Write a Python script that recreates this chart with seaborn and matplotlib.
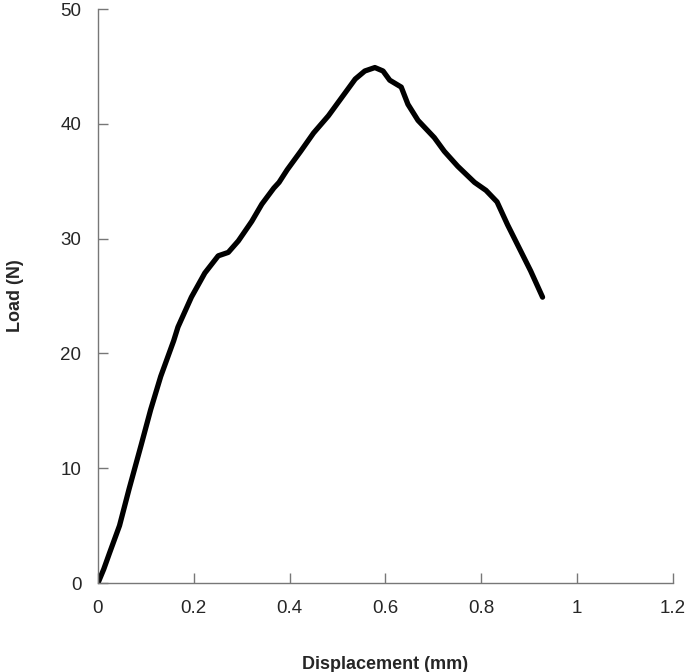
"""
plot.py
Load-displacement curve recreated with seaborn.
"""

import pandas as pd
import seaborn as sns
import matplotlib.pyplot as plt

displacement = [0.0, 0.012, 0.024, 0.045, 0.065, 0.09, 0.11, 0.131, 0.158, 0.167,
                0.195, 0.223, 0.251, 0.272, 0.293, 0.321, 0.342, 0.367, 0.378,
                0.395, 0.423, 0.45, 0.481, 0.509, 0.537, 0.557, 0.578, 0.595,
                0.609, 0.633, 0.647, 0.668, 0.702, 0.723, 0.751, 0.786, 0.81,
                0.833, 0.855, 0.879, 0.903, 0.928]
load = [0.0, 1.2, 2.6, 5.0, 8.2, 12.0, 15.1, 18.0, 21.1, 22.3,
        24.9, 27.0, 28.5, 28.8, 29.8, 31.5, 33.0, 34.4, 34.9,
        36.0, 37.6, 39.2, 40.7, 42.3, 43.9, 44.6, 44.9, 44.6,
        43.8, 43.2, 41.7, 40.3, 38.8, 37.6, 36.3, 34.9, 34.2,
        33.2, 31.2, 29.2, 27.2, 24.9]

xticks = [0, 0.2, 0.4, 0.6, 0.8, 1, 1.2]
xtick_labels = ["0", "0.2", "0.4", "0.6", "0.8", "1", "1.2"]
yticks = [0, 10, 20, 30, 40, 50]

df = pd.DataFrame({"Displacement (mm)": displacement, "Load (N)": load})

sns.set_style("ticks")
plt.rcParams["font.family"] = ["Liberation Sans", "DejaVu Sans"]

fig = plt.figure(figsize=(6.88, 6.72), dpi=100)
ax = fig.add_axes([0.1424, 0.1324, 0.8356, 0.8542])

sns.lineplot(data=df, x="Displacement (mm)", y="Load (N)", sort=False,
             color="black", linewidth=3.8, ax=ax)
ax.lines[0].set_solid_joinstyle("round")
ax.lines[0].set_solid_capstyle("round")

ax.set_xlim(0, 1.2)
ax.set_ylim(0, 50)
ax.set_xticks(xticks)
ax.set_xticklabels(xtick_labels)
ax.set_yticks(yticks)
ax.tick_params(direction="in", length=7, width=1, color="#777777",
               labelsize=13.5, pad=12)
sns.despine(ax=ax)
for side in ["left", "bottom"]:
    ax.spines[side].set_color("#777777")
    ax.spines[side].set_linewidth(1)

ax.set_xlabel("Displacement (mm)", fontsize=13, fontweight="bold", labelpad=28)
ax.set_ylabel("Load (N)", fontsize=13, fontweight="bold", labelpad=26)

fig.savefig("out.png", dpi=100)
plt.close(fig)
